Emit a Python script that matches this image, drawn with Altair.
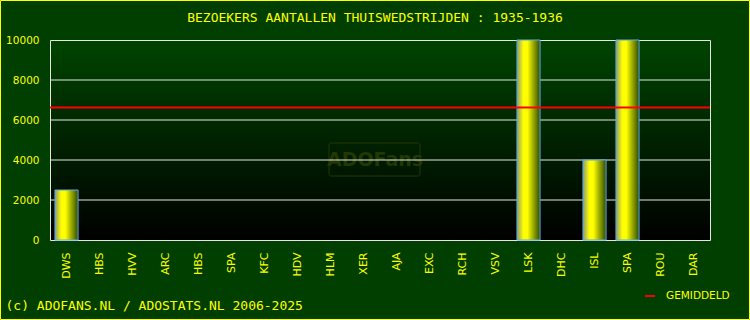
import altair as alt
import pandas as pd

teams = ["DWS", "HBS", "HVV", "ARC", "HBS", "SPA", "KFC", "HDV", "HLM", "XER",
         "AJA", "EXC", "RCH", "VSV", "LSK", "DHC", "ISL", "SPA", "ROU", "DAR"]
visitors = [2500, 0, 0, 0, 0, 0, 0, 0, 0, 0,
            0, 0, 0, 0, 10000, 0, 4000, 10000, 0, 0]
y_ticks = [0, 2000, 4000, 6000, 8000, 10000]
grid_values = [2000, 4000, 6000, 8000]
title_text = "BEZOEKERS AANTALLEN THUISWEDSTRIJDEN : 1935-1936"
footer_text = "(c) ADOFANS.NL / ADOSTATS.NL 2006-2025"
legend_label = "GEMIDDELD"
watermark = "ADOFans"

df = pd.DataFrame({
    "key": [f"{t}#{i}" for i, t in enumerate(teams)],
    "team": teams,
    "visitors": visitors,
})
order = list(df["key"])

W, H = 660, 200
YEL = "#ffff00"
GRID = "#e6e6e6"

yscale = alt.Scale(domain=[0, 10000], nice=False, zero=True)
xscale = alt.Scale(domain=order, paddingInner=0.3, paddingOuter=0.15)
yaxis = alt.Axis(values=y_ticks, format="d", grid=False, domain=False, ticks=False,
                 labelColor=YEL, labelFont="DejaVu Sans", labelFontSize=10.5,
                 labelPadding=11, title=None)

bg = alt.Chart(alt.Data(values=[{}])).mark_rect(
    fill={"gradient": "linear", "x1": 0, "x2": 0, "y1": 0, "y2": 1,
          "stops": [{"offset": 0, "color": "#004400"},
                    {"offset": 1, "color": "#000000"}]},
).encode(x=alt.value(0), x2=alt.value(W), y=alt.value(0), y2=alt.value(H))

frame = alt.Chart(alt.Data(values=[{}])).mark_rect(
    fill="transparent", stroke=GRID, strokeWidth=1
).encode(x=alt.value(0.5), x2=alt.value(W + 0.5), y=alt.value(0.5), y2=alt.value(H + 0.5))

wm_box = alt.Chart(alt.Data(values=[{}])).mark_rect(
    fill="transparent", stroke="#223800", strokeWidth=1, cornerRadius=2
).encode(x=alt.value(279), x2=alt.value(370), y=alt.value(103), y2=alt.value(136))

wm_text = alt.Chart(alt.Data(values=[{"t": watermark}])).mark_text(
    font="DejaVu Sans", fontSize=19, fontWeight="bold", color="#223800",
    align="center", baseline="middle"
).encode(x=alt.value(325), y=alt.value(120), text="t:N")

title = alt.Chart(alt.Data(values=[{"t": title_text}])).mark_text(
    font="DejaVu Sans Mono", fontSize=13, color=YEL, align="center", baseline="middle"
).encode(x=alt.value(325), y=alt.value(-22), text="t:N")

grid = alt.Chart(pd.DataFrame({"g": grid_values})).mark_rule(
    color=GRID, strokeWidth=1
).encode(y=alt.Y("g:Q", scale=yscale, axis=yaxis))

bars = alt.Chart(df).transform_filter("datum.visitors > 0").mark_bar(
    fill={"gradient": "linear", "x1": 0, "x2": 1, "y1": 0, "y2": 0,
          "stops": [{"offset": 0, "color": "#8c9c70"},
                    {"offset": 0.28, "color": "#ffff00"},
                    {"offset": 0.45, "color": "#ffff00"},
                    {"offset": 1, "color": "#2c4c00"}]},
    stroke="#5aa8f0", strokeWidth=1,
).encode(
    x=alt.X("key:N", scale=xscale,
            axis=alt.Axis(labelExpr="split(datum.value, '#')[0]", labelAngle=270,
                          labelAlign="right", labelBaseline="middle",
                          domain=False, ticks=False, labelPadding=12,
                          labelColor=YEL, labelFont="DejaVu Sans", labelFontSize=11,
                          title=footer_text, titleFont="DejaVu Sans Mono",
                          titleFontSize=13, titleFontWeight="normal", titleColor=YEL,
                          titleAnchor="start", titleAlign="left",
                          titleBaseline="alphabetic", titleX=-45, titleY=69)),
    y=alt.Y("visitors:Q", scale=yscale, axis=yaxis),
)

avg = alt.Chart(df).transform_filter("datum.visitors > 0").transform_aggregate(
    avg="mean(visitors)"
).transform_calculate(lbl=f"'{legend_label}'").mark_rule(strokeWidth=2).encode(
    y=alt.Y("avg:Q", scale=yscale, axis=yaxis),
    color=alt.Color("lbl:N", scale=alt.Scale(range=["#ff0000"]),
                    legend=alt.Legend(title=None, orient="none", legendX=594, legendY=250,
                                      symbolType="stroke", symbolStrokeWidth=2,
                                      symbolSize=100, labelColor=YEL,
                                      labelFont="DejaVu Sans", labelFontSize=10.5,
                                      labelOffset=10, padding=0)),
)

border = alt.Chart(alt.Data(values=[{}])).mark_rect(
    fill="transparent", stroke=YEL, strokeWidth=1
).encode(x=alt.value(-49.5), x2=alt.value(699.5), y=alt.value(-39.5), y2=alt.value(279.5))

chart = alt.layer(bg, wm_box, wm_text, grid, frame, bars, avg, title, border).properties(
    width=W, height=H,
    autosize=alt.AutoSizeParams(type="none"),
    padding={"left": 50, "top": 40, "right": 40, "bottom": 80},
).configure(background="#003f00").configure_view(stroke=None)

chart.save("out.html", embed_options={"renderer": "svg", "actions": False})
